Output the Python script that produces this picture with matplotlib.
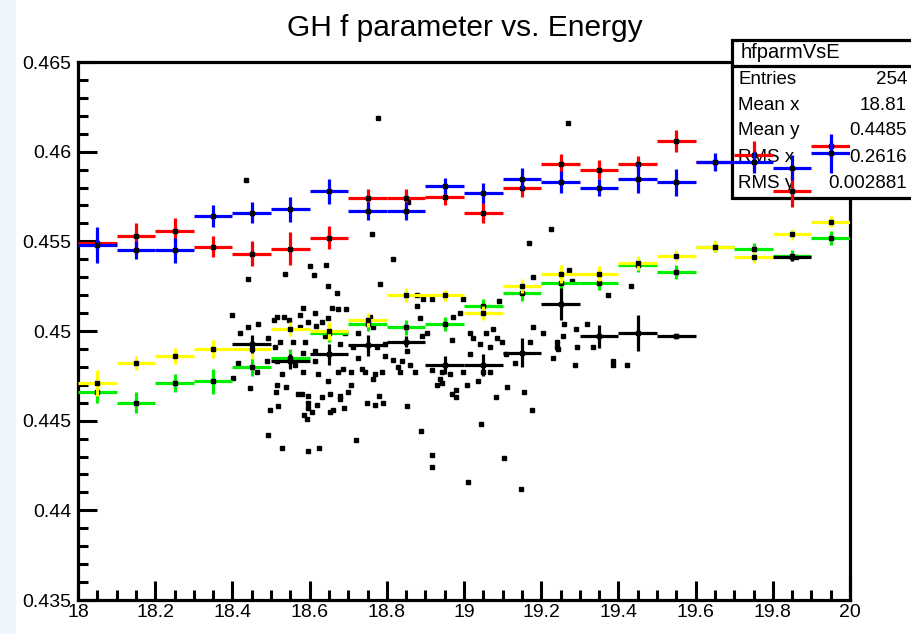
import numpy as np
import matplotlib
matplotlib.use('Agg')
import matplotlib.pyplot as plt
from matplotlib.ticker import MultipleLocator, FuncFormatter
from matplotlib.patches import Rectangle
from matplotlib.lines import Line2D

plt.rcParams['font.family'] = ['Liberation Sans', 'DejaVu Sans']

# ---------------- data ----------------
energy_bins = [18.05, 18.15, 18.25, 18.35, 18.45, 18.55, 18.65, 18.75, 18.85, 18.95,
               19.05, 19.15, 19.25, 19.35, 19.45, 19.55, 19.65, 19.75, 19.85, 19.95]

red_vals = [0.4549, 0.4553, 0.4556, 0.4547, 0.4543, 0.4546, 0.4552, 0.4574, 0.4574, 0.4575,
            0.4566, 0.4580, 0.4593, 0.4590, 0.4593, 0.4606, 0.4594, 0.4598, 0.4578, 0.4603]
red_errs = [0.0003, 0.0007, 0.0007, 0.0006, 0.0007, 0.0009, 0.00065, 0.0005, 0.0005, 0.0005,
            0.0006, 0.0005, 0.00055, 0.00055, 0.00045, 0.0006, 0.0004, 0.0008, 0.0009, 0.0003]

blue_vals = [0.4548, 0.4545, 0.4545, 0.4564, 0.4566, 0.4568, 0.4578, 0.4567, 0.4567, 0.4581,
             0.4577, 0.4585, 0.4583, 0.4580, 0.4585, 0.4583, 0.4594, 0.4594, 0.4591, 0.4599]
blue_errs = [0.0010, 0.0005, 0.0007, 0.0006, 0.0006, 0.0007, 0.0007, 0.0005, 0.0005, 0.00045,
             0.00055, 0.0006, 0.0006, 0.00045, 0.0008, 0.00075, 0.0005, 0.0006, 0.0007, 0.0011]

yellow_vals = [0.4471, 0.4482, 0.4486, 0.4490, 0.4490, 0.4501, 0.4500, 0.4506, 0.4520, 0.4520,
               0.4510, 0.4525, 0.4532, 0.4532, 0.4538, 0.4542, 0.4547, 0.4541, 0.4554, 0.4561]
yellow_errs = [0.0007, 0.0004, 0.00045, 0.0005, 0.00055, 0.0004, 0.0005, 0.0004, 0.0004, 0.0003,
               0.0004, 0.0004, 0.0005, 0.0004, 0.0004, 0.0003, 0.0003, 0.0003, 0.0003, 0.0003]

green_vals = [0.4466, 0.4460, 0.4471, 0.4472, 0.4480, 0.4485, 0.4499, 0.4504, 0.4502, 0.4504,
              0.4514, 0.4521, 0.4527, 0.4527, 0.4537, 0.4533, 0.4547, 0.4546, 0.4542, 0.4552]
green_errs = [0.0006, 0.0006, 0.0005, 0.0007, 0.0005, 0.0005, 0.0005, 0.0004, 0.0004, 0.0004,
              0.0004, 0.0004, 0.0004, 0.0004, 0.0004, 0.0004, 0.0003, 0.0003, 0.0003, 0.0004]

black_vals = [np.nan, np.nan, np.nan, np.nan, 0.4493, 0.4483, 0.4487, 0.4492, 0.4494, 0.4481,
              0.4481, 0.4488, 0.4515, 0.4497, 0.4499, 0.4497, np.nan, np.nan, 0.4541, np.nan]
black_errs = [0, 0, 0, 0, 0.0005, 0.0004, 0.0006, 0.0006, 0.0003, 0.0005,
              0.0006, 0.0008, 0.0009, 0.00065, 0.0010, 0.0001, 0, 0, 0.0002, 0]

scatter_x = [
    18.777, 19.269, 18.435, 18.855, 18.762, 19.225, 19.168, 18.816, 18.642, 18.601, 19.272,
    18.440, 18.536, 18.611, 18.648, 18.671, 18.782, 18.399, 18.583, 18.658, 18.674, 18.694,
    18.516, 18.534, 18.575, 18.614, 18.508, 18.466, 18.440, 18.420, 18.547, 18.575, 18.596,
    18.617, 18.632, 18.648, 18.725, 18.692, 18.756, 18.764, 18.492, 18.523, 18.557, 18.588,
    18.640, 18.679, 18.510, 18.583, 18.614, 18.712, 18.775, 18.795, 18.795, 18.816, 18.415,
    18.490, 18.516, 18.562, 18.614, 18.725, 18.829, 18.687, 18.736,
    19.179, 19.280, 19.433, 19.373, 18.878, 18.878, 18.894, 18.917, 18.997, 19.091, 18.886,
    18.972, 18.990, 19.259, 19.319, 19.179, 19.290, 19.016, 19.057, 19.075, 19.205, 19.256,
    18.904, 18.891, 18.969, 19.023, 19.041, 19.085, 19.098, 19.171, 19.241, 19.067, 19.241,
    19.293, 19.334, 19.109, 19.016, 19.231, 19.386, 19.288, 19.386, 19.422, 18.860, 19.132,
    18.839, 18.852,
    18.402, 18.464, 18.528, 18.583, 18.622, 18.674, 18.707, 18.744, 18.769, 18.788, 18.446,
    18.516, 18.539, 18.648, 18.707, 18.764, 18.513, 18.570, 18.580, 18.596, 18.632, 18.653,
    18.679, 18.679, 18.699, 18.780, 18.749, 18.769, 18.790, 18.518, 18.596, 18.619, 18.497,
    18.596, 18.606, 18.653, 18.661, 18.689, 18.585, 18.593, 18.492, 18.720, 18.528, 18.596,
    18.624,
    18.834, 18.873, 18.917, 18.943, 18.964, 18.997, 19.049, 19.067, 18.938, 18.930, 18.943,
    19.008, 19.036, 19.111, 18.969, 18.979, 18.979, 19.083, 19.155, 18.852, 19.176, 19.044,
    18.889, 18.917, 18.917, 19.104, 19.010, 19.148,
    19.550, 19.860, 19.244]
scatter_y = [
    0.4619, 0.4616, 0.4584, 0.4572, 0.4554, 0.4557, 0.4549, 0.4540, 0.4537, 0.4536, 0.4534,
    0.4529, 0.4532, 0.4531, 0.4525, 0.4521, 0.4526, 0.4509, 0.4513, 0.4513, 0.4512, 0.4512,
    0.4508, 0.4508, 0.4509, 0.4510, 0.4506, 0.4504, 0.4502, 0.4499, 0.4506, 0.4502, 0.4505,
    0.4503, 0.4505, 0.4507, 0.4499, 0.4499, 0.4508, 0.4502, 0.4496, 0.4494, 0.4494, 0.4494,
    0.4497, 0.4493, 0.4491, 0.4488, 0.4489, 0.4491, 0.4491, 0.4493, 0.4486, 0.4484, 0.4482,
    0.4483, 0.4483, 0.4481, 0.4483, 0.4485, 0.4480, 0.4479, 0.4479,
    0.4530, 0.4528, 0.4525, 0.4520, 0.4520, 0.4514, 0.4518, 0.4518, 0.4518, 0.4517, 0.4507,
    0.4508, 0.4510, 0.4504, 0.4504, 0.4502, 0.4501, 0.4499, 0.4499, 0.4501, 0.4499, 0.4497,
    0.4499, 0.4497, 0.4495, 0.4496, 0.4493, 0.4496, 0.4494, 0.4494, 0.4494, 0.4491, 0.4491,
    0.4491, 0.4491, 0.4487, 0.4487, 0.4485, 0.4483, 0.4481, 0.4481, 0.4481, 0.4481, 0.4482,
    0.4483, 0.4489,
    0.4474, 0.4477, 0.4476, 0.4477, 0.4476, 0.4477, 0.4477, 0.4477, 0.4476, 0.4477, 0.4468,
    0.4470, 0.4469, 0.4472, 0.4470, 0.4473, 0.4466, 0.4465, 0.4465, 0.4464, 0.4463, 0.4465,
    0.4464, 0.4462, 0.4466, 0.4464, 0.4460, 0.4459, 0.4460, 0.4458, 0.4460, 0.4459, 0.4456,
    0.4457, 0.4455, 0.4455, 0.4456, 0.4457, 0.4453, 0.4451, 0.4442, 0.4439, 0.4435, 0.4433,
    0.4435,
    0.4477, 0.4477, 0.4478, 0.4477, 0.4476, 0.4477, 0.4477, 0.4477, 0.4473, 0.4470, 0.4471,
    0.4470, 0.4472, 0.4469, 0.4465, 0.4467, 0.4463, 0.4463, 0.4466, 0.4458, 0.4456, 0.4448,
    0.4444, 0.4431, 0.4424, 0.4429, 0.4416, 0.4412,
    0.4497, 0.4541, 0.4490]

title = "GH f parameter vs. Energy"
stats_name = "hfparmVsE"
stats_labels = ["Entries", "Mean x", "Mean y", "RMS x", "RMS y"]
stats_values = ["254", "18.81", "0.4485", "0.2616", "0.002881"]

# ---------------- figure ----------------
W, H = 911, 634
fig = plt.figure(figsize=(W / 100, H / 100), dpi=100)
fig.patch.set_facecolor('white')
fig.patches.append(Rectangle((0, 0), 16 / W, 1, transform=fig.transFigure,
                             facecolor='#eef5fd', edgecolor='none', zorder=0))

ax = fig.add_axes([78 / W, 1 - 600 / H, (850 - 78) / W, (600 - 62) / H])
ax.set_xlim(18, 20)
ax.set_ylim(0.435, 0.465)

for s in ['left', 'bottom', 'right', 'top']:
    ax.spines[s].set_linewidth(2.3)
    ax.spines[s].set_color('black')

ax.xaxis.set_major_locator(MultipleLocator(0.2))
ax.xaxis.set_minor_locator(MultipleLocator(0.05))
ax.yaxis.set_major_locator(MultipleLocator(0.005))
ax.yaxis.set_minor_locator(MultipleLocator(0.001))
fmt = FuncFormatter(lambda v, p: ('%g' % round(v, 4)))
ax.xaxis.set_major_formatter(fmt)
ax.yaxis.set_major_formatter(fmt)
ax.tick_params(axis='both', which='both', direction='in', top=False, right=False,
               width=2.2, labelsize=14)
ax.tick_params(axis='both', which='major', length=14)
ax.tick_params(axis='both', which='minor', length=7.5)
ax.tick_params(axis='x', which='major', pad=3)
ax.tick_params(axis='y', which='major', pad=5)

# scatter points
ax.plot(scatter_x, scatter_y, 's', ms=2.6, color='black', lw=0, zorder=4)

# profiles
series = [(green_vals, green_errs, '#00ee00'),
          (yellow_vals, yellow_errs, '#ffff00'),
          (red_vals, red_errs, '#ff0000'),
          (blue_vals, blue_errs, '#0000ff'),
          (black_vals, black_errs, 'black')]
for i, (vals, errs, col) in enumerate(series):
    ax.errorbar(energy_bins, vals, xerr=0.05, yerr=errs, fmt='none', ecolor=col,
                elinewidth=2.3, capsize=0, zorder=5 + i * 0.1)
    ax.plot(energy_bins, vals, 's', ms=2.6, color='black', lw=0, zorder=5.05 + i * 0.1)

# stats box (drawn above frame, below data)
bx0, by_top, by_hdr, by_bot = 732 / W, 1 - 40 / H, 1 - 66 / H, 1 - 198 / H
box = Rectangle((bx0, by_bot), 0.3, by_top - by_bot, transform=fig.transFigure,
                facecolor='white', edgecolor='black', linewidth=2.3, clip_on=False, zorder=3)
ax.add_patch(box)
ax.add_line(Line2D([bx0, 1.3], [by_hdr, by_hdr], transform=fig.transFigure,
                   color='black', linewidth=2.3, clip_on=False, zorder=3.1))
ax.text(790 / W, 1 - 53 / H, stats_name, transform=fig.transFigure, ha='center', va='center',
        fontsize=14.5, clip_on=False, zorder=3.2)
row_y = [80, 105, 130, 157, 184]
for lab, val, ry in zip(stats_labels, stats_values, row_y):
    ax.text(738 / W, 1 - ry / H, lab, transform=fig.transFigure, ha='left', va='center',
            fontsize=13.5, clip_on=False, zorder=3.2)
    ax.text(907 / W, 1 - ry / H, val, transform=fig.transFigure, ha='right', va='center',
            fontsize=13.5, clip_on=False, zorder=3.2)

fig.text(465 / W, 1 - 28 / H, title, ha='center', va='center', fontsize=21.5)

fig.savefig('out.png', dpi=100)
